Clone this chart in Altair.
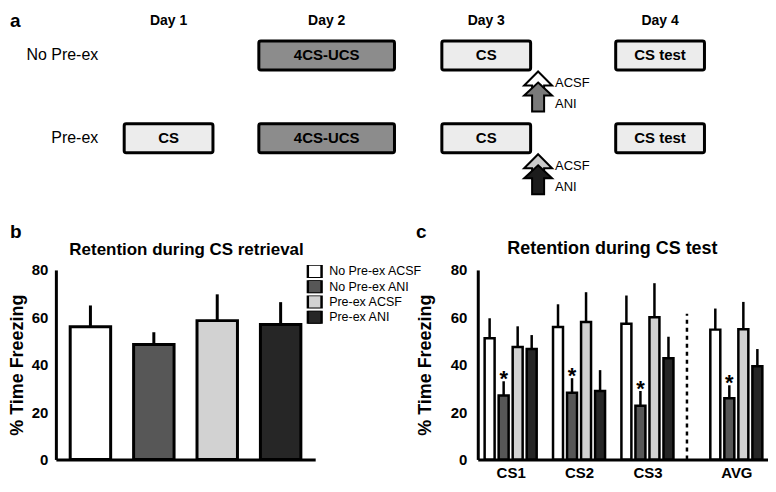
import altair as alt
import pandas as pd

FONT = "Liberation Sans"

# ---------------- panel a : protocol ----------------
DAY_NUMBERS = [1, 2, 3, 4]
DAY_LABELS = ["Day 1", "Day 2", "Day 3", "Day 4"]
PROTOCOL_ROWS = [1, 2]
PROTOCOL_ROW_LABELS = ["No Pre-ex", "Pre-ex"]
SESSION_ROW = [1, 1, 1, 2, 2, 2, 2]
SESSION_DAY = [2, 3, 4, 1, 2, 3, 4]
SESSION_LABEL = ["4CS-UCS", "CS", "CS test", "CS", "4CS-UCS", "CS", "CS test"]
INFUSION_ROW = [1, 1, 2, 2]
INFUSION_DAY = [3, 3, 3, 3]
INFUSION_DRUG = ["ACSF", "ANI", "ACSF", "ANI"]

# ---------------- panel b : retrieval ----------------
GROUPS = ["No Pre-ex ACSF", "No Pre-ex ANI", "Pre-ex ACSF", "Pre-ex ANI"]
RETRIEVAL_MEAN = [56.0, 48.5, 58.6, 57.0]
RETRIEVAL_SEM = [9.0, 5.2, 11.1, 9.4]

# ---------------- panel c : CS test ----------------
TRIALS = ["CS1", "CS2", "CS3", "AVG"]
TEST_MEAN_NOPRE_ACSF = [51.2, 55.9, 57.3, 54.8]
TEST_SEM_NOPRE_ACSF = [8.4, 9.6, 11.9, 8.9]
TEST_MEAN_NOPRE_ANI = [27.0, 28.2, 22.7, 25.8]
TEST_SEM_NOPRE_ANI = [6.0, 6.1, 6.2, 5.5]
TEST_MEAN_PRE_ACSF = [47.5, 58.0, 60.0, 55.0]
TEST_SEM_PRE_ACSF = [8.7, 12.6, 14.4, 11.5]
TEST_MEAN_PRE_ANI = [46.6, 28.9, 42.7, 39.3]
TEST_SEM_PRE_ANI = [5.9, 8.8, 9.1, 7.3]
STAR_GROUP = "No Pre-ex ANI"
STAR_TRIALS = ["CS1", "CS2", "CS3", "AVG"]

BAR_COLORS = ["#ffffff", "#575757", "#d2d2d2", "#262626"]

# ======================================================
# Panel a
# ======================================================
xa = alt.Scale(domain=[0, 1, 2, 3, 4], range=[40, 113, 271.5, 431.5, 612], zero=False, nice=False)
ya = alt.Scale(domain=[0.4337, 2.783], reverse=True, zero=False, nice=False)

sess_df = pd.DataFrame({"row": SESSION_ROW, "day": SESSION_DAY, "label": SESSION_LABEL})
days_df = pd.DataFrame({"day": DAY_NUMBERS, "label": DAY_LABELS})
rows_df = pd.DataFrame({"row": PROTOCOL_ROWS, "label": PROTOCOL_ROW_LABELS, "day": [0, 0]})
inf_df = pd.DataFrame({"row": INFUSION_ROW, "day": INFUSION_DAY, "drug": INFUSION_DRUG})

sess = alt.Chart(sess_df).transform_calculate(
    y0="datum.row - 0.175", y1="datum.row + 0.175",
    w="datum.label == '4CS-UCS' ? 136 : 89")
boxes = sess.mark_bar(orient="vertical", stroke="black", strokeWidth=3, cornerRadius=2).encode(
    x=alt.X("day:Q", scale=xa, axis=None),
    y=alt.Y("y0:Q", scale=ya, axis=None),
    y2="y1:Q",
    size=alt.Size("w:Q", scale=None, legend=None),
    color=alt.Color("label:N", scale=alt.Scale(domain=["4CS-UCS", "CS", "CS test"],
                                               range=["#8c8c8c", "#ececec", "#ececec"]), legend=None),
)
box_text = sess.mark_text(font=FONT, fontSize=15, fontWeight="bold", baseline="middle", color="black").encode(
    x=alt.X("day:Q", scale=xa), y=alt.Y("row:Q", scale=ya), text="label:N")

headers = alt.Chart(days_df).mark_text(font=FONT, fontSize=14, fontWeight="bold", baseline="middle", color="black").encode(
    x=alt.X("day:Q", scale=xa), y=alt.value(12), text="label:N")

row_labels = alt.Chart(rows_df).mark_text(font=FONT, fontSize=16, align="right", baseline="middle", color="black").encode(
    x=alt.X("day:Q", scale=xa), y=alt.Y("row:Q", scale=ya), text="label:N")

ARROW_UPPER = "M0,-1.43 L1,-0.43 L0.43,-0.43 L0.43,0.3 L-0.43,0.3 L-0.43,-0.43 L-1,-0.43 Z"
ARROW_LOWER = "M0,-0.64 L1,0.29 L0.43,0.29 L0.43,1.43 L-0.43,1.43 L-0.43,0.29 L-1,0.29 Z"

inf = alt.Chart(inf_df).transform_calculate(
    key="datum.row + '-' + datum.drug",
    ay="datum.row + 0.434",
    ly="datum.row + (datum.drug == 'ACSF' ? 0.337 : 0.59)")
arrows = inf.mark_point(filled=True, opacity=1, stroke="black", strokeWidth=2, size=784, xOffset=52).encode(
    x=alt.X("day:Q", scale=xa), y=alt.Y("ay:Q", scale=ya),
    shape=alt.Shape("drug:N", scale=alt.Scale(domain=["ACSF", "ANI"], range=[ARROW_UPPER, ARROW_LOWER]), legend=None),
    fill=alt.Fill("key:N", scale=alt.Scale(domain=["1-ACSF", "1-ANI", "2-ACSF", "2-ANI"],
                                           range=["#ffffff", "#7a7a7a", "#cccccc", "#1c1c1c"]), legend=None),
)
drug_labels = inf.mark_text(font=FONT, fontSize=13, align="left", baseline="middle", dx=69, color="black").encode(
    x=alt.X("day:Q", scale=xa), y=alt.Y("ly:Q", scale=ya), text="drug:N")

letter_a = alt.Chart(pd.DataFrame({"t": ["a"]})).mark_text(
    font=FONT, fontSize=19, fontWeight="bold", align="left", baseline="top", color="black").encode(
    x=alt.value(-46), y=alt.value(3), text="t:N")

panel_a = alt.layer(boxes, box_text, headers, row_labels, arrows, drug_labels, letter_a).properties(
    width=700, height=195)

# ======================================================
# shared bar styling
# ======================================================
PLOT_H = 190
color_scale = alt.Scale(domain=GROUPS, range=BAR_COLORS)
yscale = alt.Scale(domain=[0, 80], nice=False)
common_y = dict(values=[0, 20, 40, 60, 80], title="% Time Freezing", titleFont=FONT, titleFontSize=18,
                titleFontWeight="bold", titleColor="black", labelFont=FONT, labelFontSize=15,
                labelFontWeight="bold", labelColor="black", ticks=False, tickSize=0, grid=False,
                domainColor="black", domainWidth=3)

# ======================================================
# Panel b
# ======================================================
b_df = pd.DataFrame({"group": GROUPS, "mean": RETRIEVAL_MEAN, "sem": RETRIEVAL_SEM})
b_base = alt.Chart(b_df).transform_calculate(upper="datum.mean + datum.sem")
xb = alt.X("group:N", sort=GROUPS, scale=alt.Scale(paddingInner=0.362, paddingOuter=0.226),
           axis=alt.Axis(labels=False, ticks=False, title=None, domainColor="black", domainWidth=3, grid=False))
b_bars = b_base.mark_bar(stroke="black", strokeWidth=3).encode(
    x=xb,
    y=alt.Y("mean:Q", stack=None, scale=yscale, axis=alt.Axis(labelPadding=8, titlePadding=5, **common_y)),
    color=alt.Color("group:N", scale=color_scale, legend=alt.Legend(
        title=None, orient="none", legendX=251, legendY=-5, symbolType="square", symbolSize=190,
        symbolStrokeColor="black", symbolStrokeWidth=2.5, labelFont=FONT, labelFontSize=12.5,
        labelColor="black", rowPadding=2.3, clipHeight=13, labelOffset=6)),
)
b_err = b_base.mark_rule(color="black", strokeWidth=3).encode(x=xb, y="mean:Q", y2="upper:Q")
b_title = alt.Chart(pd.DataFrame({"t": ["Retention during CS retrieval"]})).mark_text(
    font=FONT, fontSize=17, fontWeight="bold", baseline="middle", color="black").encode(
    x=alt.value(131), y=alt.value(-20), text="t:N")
b_letter = alt.Chart(pd.DataFrame({"t": ["b"]})).mark_text(
    font=FONT, fontSize=19, fontWeight="bold", align="left", baseline="top", color="black").encode(
    x=alt.value(-46), y=alt.value(-47), text="t:N")
panel_b = alt.layer(b_err, b_bars, b_title, b_letter).properties(width=260, height=PLOT_H)

# ======================================================
# Panel c
# ======================================================
rows = []
for g, means, sems in zip(GROUPS,
                          [TEST_MEAN_NOPRE_ACSF, TEST_MEAN_NOPRE_ANI, TEST_MEAN_PRE_ACSF, TEST_MEAN_PRE_ANI],
                          [TEST_SEM_NOPRE_ACSF, TEST_SEM_NOPRE_ANI, TEST_SEM_PRE_ACSF, TEST_SEM_PRE_ANI]):
    for t, m, s in zip(TRIALS, means, sems):
        rows.append({"trial": t, "group": g, "mean": m, "sem": s})
c_df = pd.DataFrame(rows)

trials_js = "[" + ",".join("'" + t + "'" for t in TRIALS) + "]"
groups_js = "[" + ",".join("'" + g + "'" for g in GROUPS) + "]"
stars_js = "[" + ",".join("'" + t + "'" for t in STAR_TRIALS) + "]"

AVG_POS = 4.30
c_base = alt.Chart(c_df).transform_calculate(
    upper="datum.mean + datum.sem",
    xpos=f"(datum.trial == 'AVG' ? {AVG_POS} : indexof({trials_js}, datum.trial) + 1)"
         f" + (indexof({groups_js}, datum.group) - 1.5) * 0.205",
)
xc = alt.X("xpos:Q", scale=alt.Scale(domain=[0.592, 4.69], nice=False, zero=False),
           axis=alt.Axis(values=[1, 2, 3, AVG_POS], title=None, ticks=False, tickSize=0, grid=False,
                         labelExpr="datum.value == 1 ? 'CS1' : datum.value == 2 ? 'CS2' : datum.value == 3 ? 'CS3' : 'AVG'",
                         labelFont=FONT, labelFontSize=15, labelFontWeight="bold", labelColor="black",
                         labelPadding=6, labelFlush=False, domainColor="black", domainWidth=3))
c_bars = c_base.mark_bar(orient="vertical", size=10, stroke="black", strokeWidth=2.5).encode(
    x=xc,
    y=alt.Y("mean:Q", stack=None, scale=yscale, axis=alt.Axis(labelPadding=11, titlePadding=16, **common_y)),
    color=alt.Color("group:N", scale=color_scale, legend=None),
)
c_err = c_base.mark_rule(color="black", strokeWidth=2.5).encode(x=xc, y="mean:Q", y2="upper:Q")
c_stars = c_base.transform_filter(
    f"datum.group == '{STAR_GROUP}' && indexof({stars_js}, datum.trial) >= 0"
).mark_text(text="*", font=FONT, fontSize=22, fontWeight="bold", baseline="alphabetic", dy=5, color="black").encode(
    x=xc, y="upper:Q")
c_sep = alt.Chart(pd.DataFrame({"t": [0]})).mark_rule(color="black", strokeWidth=2.5, strokeDash=[4, 4]).encode(
    x=alt.datum(3.578), y=alt.datum(0), y2=alt.datum(61.5))
c_title = alt.Chart(pd.DataFrame({"t": ["Retention during CS test"]})).mark_text(
    font=FONT, fontSize=18, fontWeight="bold", baseline="middle", color="black").encode(
    x=alt.value(135), y=alt.value(-21), text="t:N")
c_letter = alt.Chart(pd.DataFrame({"t": ["c"]})).mark_text(
    font=FONT, fontSize=19, fontWeight="bold", align="left", baseline="top", color="black").encode(
    x=alt.value(-62), y=alt.value(-47), text="t:N")
panel_c = alt.layer(c_err, c_bars, c_stars, c_sep, c_title, c_letter).properties(width=291, height=PLOT_H)

bottom = alt.hconcat(panel_b, panel_c, spacing=163, bounds="flush").resolve_scale(color="independent")

chart = alt.vconcat(panel_a, bottom, spacing=20, padding=0).resolve_scale(
    color="independent", fill="independent", shape="independent", size="independent"
).configure(font=FONT, view=alt.ViewConfig(stroke=None))

chart.save("out.html", embed_options={"renderer": "svg", "actions": False})
